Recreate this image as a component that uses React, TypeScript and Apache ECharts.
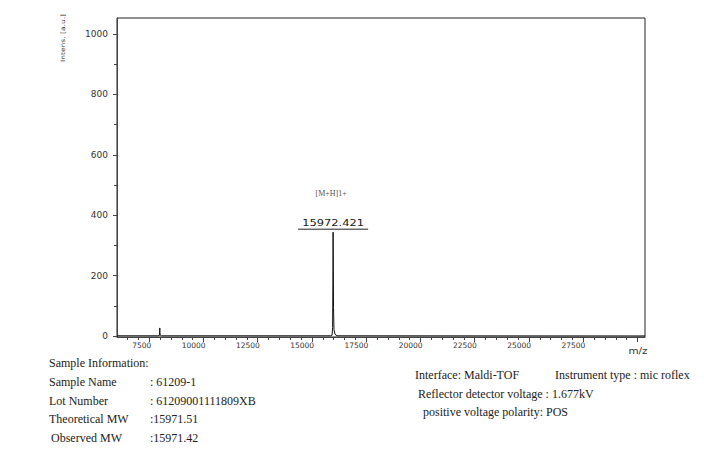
import React, { useEffect, useRef } from "react";
import * as echarts from "echarts";

// Spectrum (m/z vs intensity)
const mzValues = [6014, 7900, 7965, 7978, 7986, 7994, 8008, 8070, 15850, 15925, 15950, 15963, 15972.421, 15981, 15992, 16012, 16060, 16150, 30346];
const intensityValues = [1, 1, 2, 14, 27, 12, 3, 1, 1, 3, 28, 175, 344, 255, 95, 22, 6, 1, 0.5];

const xTickLabels = [7500, 10000, 12500, 15000, 17500, 20000, 22500, 25000, 27500];
const xMajorTicks = [7500, 10000, 12500, 15000, 17500, 20000, 22500, 25000, 27500, 30000];
const xMinorTicks = [
  6500, 7000, 8000, 8500, 9000, 9500, 10500, 11000, 11500, 12000, 13000, 13500, 14000, 14500,
  15500, 16000, 16500, 17000, 18000, 18500, 19000, 19500, 20500, 21000, 21500, 22000, 23000,
  23500, 24000, 24500, 25500, 26000, 26500, 27000, 28000, 28500, 29000, 29500,
];
const yTickLabels = [0, 200, 400, 600, 800, 1000];
const yMinorTicks = [100, 300, 500, 700, 900];

const xMin = 6014;
const xMax = 30346;
const yMin = -3;
const yMax = 1053;

const peakMz = 15972.421;
const peakIntensity = 344;
const peakLabel = "15972.421";
const ionLabel = "[M+H]1+";
const yAxisTitle = "Intens. [a.u.]";
const xAxisTitle = "m/z";

const sampleLabels = ["Sample Name", "Lot Number", "Theoretical MW", "Observed MW"];
const sampleValues = [": 61209-1", ": 61209001111809XB", ":15971.51", ":15971.42"];
const instrumentLines = [
  "Interface: Maldi-TOF",
  "Reflector detector voltage : 1.677kV",
  "positive voltage polarity: POS",
];
const instrumentType = "Instrument type : mic roflex";

export default function App() {
  const ref = useRef<HTMLDivElement>(null);

  useEffect(() => {
    if (!ref.current) return;
    const chart = echarts.init(ref.current, null, { renderer: "svg" });
    const axisColor = "#444";
    const labelFont = "DejaVu Sans";
    const grid = { left: 117, right: 59, top: 18, bottom: 121, show: true, borderColor: "#222", borderWidth: 1 };

    const option: any = {
      animation: false,
      backgroundColor: "#ffffff",
      grid,
      xAxis: [
        {
          type: "value",
          min: xMin,
          max: xMax,
          position: "bottom",
          axisLine: { show: true, onZero: false, lineStyle: { color: axisColor, width: 1 } },
          axisTick: { show: true, inside: false, length: 5, customValues: xMajorTicks, lineStyle: { color: axisColor } },
          axisLabel: {
            show: true,
            customValues: xTickLabels,
            align: "right",
            margin: 4,
            padding: [0, -2, 0, 0],
            fontSize: 7.5,
            fontFamily: labelFont,
            color: "#333",
            formatter: (v: number) => String(v),
          },
          splitLine: { show: false },
        },
        {
          type: "value",
          min: xMin,
          max: xMax,
          position: "bottom",
          axisLine: { show: false, onZero: false },
          axisTick: { show: true, inside: false, length: 3, customValues: xMinorTicks, lineStyle: { color: axisColor } },
          axisLabel: { show: false },
          splitLine: { show: false },
        },
      ],
      yAxis: [
        {
          type: "value",
          min: yMin,
          max: yMax,
          position: "left",
          axisLine: { show: true, onZero: false, lineStyle: { color: axisColor, width: 1 } },
          axisTick: { show: true, inside: false, length: 4, customValues: yTickLabels, lineStyle: { color: axisColor } },
          axisLabel: {
            show: true,
            customValues: yTickLabels,
            margin: 9,
            fontSize: 9,
            fontFamily: labelFont,
            color: "#333",
            formatter: (v: number) => String(v),
          },
          splitLine: { show: false },
        },
        {
          type: "value",
          min: yMin,
          max: yMax,
          position: "left",
          offset: 0,
          axisLine: { show: false, onZero: false },
          axisTick: { show: true, inside: false, length: 3, customValues: yMinorTicks, lineStyle: { color: axisColor } },
          axisLabel: { show: false },
          splitLine: { show: false },
        },
      ],
      series: [
        {
          type: "line",
          xAxisIndex: 0,
          yAxisIndex: 0,
          data: mzValues.map((m, i) => [m, intensityValues[i]]),
          showSymbol: false,
          symbol: "none",
          lineStyle: { color: "#111", width: 1 },
          silent: true,
        },
      ],
    };
    chart.setOption(option);

    const top = chart.convertToPixel({ xAxisIndex: 0, yAxisIndex: 0 }, [peakMz, peakIntensity]) as number[];
    const corner = chart.convertToPixel({ xAxisIndex: 0, yAxisIndex: 0 }, [xMax, yMin]) as number[];
    const px = top[0];
    const py = top[1];

    const serif = "Liberation Serif";
    const graphic: any[] = [
      {
        type: "text",
        x: px - 2,
        y: py - 39,
        style: { text: ionLabel, align: "center", verticalAlign: "middle", fontSize: 8, fontFamily: serif, fill: "#555" },
      },
      {
        type: "text",
        x: px,
        y: py - 9,
        scaleX: 1.35,
        style: { text: peakLabel, align: "center", verticalAlign: "middle", fontSize: 8.5, fontFamily: labelFont, fill: "#222" },
      },
      {
        type: "line",
        shape: { x1: px - 35, y1: py - 3, x2: px + 35, y2: py - 3 },
        style: { stroke: "#222", lineWidth: 1 },
      },
      {
        type: "text",
        x: corner[0] - 7,
        y: corner[1] + 14,
        scaleX: 1.3,
        style: { text: xAxisTitle, align: "center", verticalAlign: "middle", fontSize: 8, fontFamily: labelFont, fill: "#333" },
      },
      {
        type: "text",
        x: 63,
        y: 38,
        rotation: Math.PI / 2,
        scaleX: 1.25,
        style: { text: yAxisTitle, align: "center", verticalAlign: "middle", fontSize: 6, fontFamily: labelFont, fill: "#333" },
      },
      {
        type: "text",
        x: 49,
        y: 363,
        style: { text: "Sample Information:", align: "left", verticalAlign: "middle", fontSize: 12, fontFamily: serif, fill: "#222" },
      },
    ];
    sampleLabels.forEach((label, i) => {
      graphic.push({
        type: "text",
        x: i === 3 ? 51 : 49,
        y: 382 + i * 18.5,
        style: { text: label, align: "left", verticalAlign: "middle", fontSize: 12, fontFamily: serif, fill: "#222" },
      });
      graphic.push({
        type: "text",
        x: 150,
        y: 382 + i * 18.5,
        style: { text: sampleValues[i], align: "left", verticalAlign: "middle", fontSize: 12, fontFamily: serif, fill: "#222" },
      });
    });
    const instX = [415, 418, 423];
    instrumentLines.forEach((line, i) => {
      graphic.push({
        type: "text",
        x: instX[i],
        y: 375 + i * 18.5,
        style: { text: line, align: "left", verticalAlign: "middle", fontSize: 12, fontFamily: serif, fill: "#222" },
      });
    });
    graphic.push({
      type: "text",
      x: 555,
      y: 375,
      style: { text: instrumentType, align: "left", verticalAlign: "middle", fontSize: 12, fontFamily: serif, fill: "#222" },
    });

    chart.setOption({ graphic });

    return () => {
      chart.dispose();
    };
  }, []);

  return (
    <div
      ref={ref}
      style={{ position: "fixed", left: 0, top: 0, width: 704, height: 458, background: "#fff" }}
    />
  );
}
